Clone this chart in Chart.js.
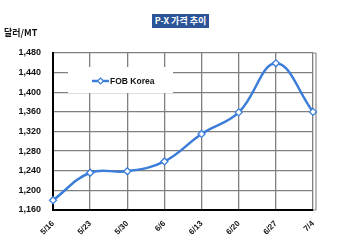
<!DOCTYPE html>
<html>
<head>
<meta charset="utf-8">
<script src="https://cdn.jsdelivr.net/npm/chart.js@4"></script>
<style>
  body { margin: 0; background: #fff; }
  #wrap { position: relative; width: 350px; height: 250px; }
  #title {
    position: absolute; left: 152px; top: 14px; width: 57px; height: 14px;
    background: #2b5597; color: #fff; font: bold 9px "Noto Sans CJK KR", sans-serif;
    line-height: 14px; text-align: center; white-space: nowrap;
  }
  #unit {
    position: absolute; left: 4px; top: 26px;
    font: bold 9px "Noto Sans CJK KR", sans-serif; color: #111;
  }
</style>
</head>
<body>
<div id="wrap">
  <canvas id="chart" width="350" height="250"></canvas>
  <div id="title">P-X 가격 추이</div>
  <div id="unit">달러/MT</div>
</div>
<script>
// données
const LABELS = ["5/16", "5/23", "5/30", "6/6", "6/13", "6/20", "6/27", "7/4"];
const FOB_KOREA = [1180, 1236, 1239, 1259, 1315, 1359, 1459, 1360];
const Y_MIN = 1160;
const Y_MAX = 1480;
const Y_STEP = 40;

const BLUE = '#3b7dd8';

// légende dessinée à la main (fond blanc sur la grille) + bord droit du cadre
const legendBox = {
  id: 'legendBox',
  beforeDatasetsDraw(chart) {
    const ctx = chart.ctx;
    const area = chart.chartArea;
    ctx.save();
    ctx.strokeStyle = '#8a8a8a';
    ctx.lineWidth = 1.2;
    ctx.beginPath();
    ctx.moveTo(area.right + 3, area.top);
    ctx.lineTo(area.right + 3, area.bottom);
    ctx.moveTo(area.right, area.top);
    ctx.lineTo(area.right + 3, area.top);
    ctx.moveTo(area.right, area.bottom);
    ctx.lineTo(area.right + 3, area.bottom);
    ctx.stroke();
    ctx.restore();
  },
  afterDraw(chart) {
    const ctx = chart.ctx;
    ctx.save();
    ctx.fillStyle = '#fff';
    ctx.fillRect(68, 67, 105, 26);
    ctx.strokeStyle = BLUE;
    ctx.lineWidth = 2.5;
    ctx.beginPath();
    ctx.moveTo(92, 81);
    ctx.lineTo(109, 81);
    ctx.stroke();
    // petit losange
    ctx.fillStyle = '#fff';
    ctx.lineWidth = 1.2;
    ctx.beginPath();
    ctx.moveTo(100.5, 78);
    ctx.lineTo(103.5, 81);
    ctx.lineTo(100.5, 84);
    ctx.lineTo(97.5, 81);
    ctx.closePath();
    ctx.fill();
    ctx.stroke();
    ctx.fillStyle = '#111';
    ctx.font = 'bold 8.5px "Liberation Sans", Arial, sans-serif';
    ctx.textBaseline = 'middle';
    ctx.fillText(chart.data.datasets[0].label, 110, 81.5);
    ctx.restore();
  }
};

const ctx = document.getElementById('chart').getContext('2d');
new Chart(ctx, {
  type: 'line',
  data: {
    labels: LABELS,
    datasets: [{
      label: 'FOB Korea',
      data: FOB_KOREA,
      borderColor: BLUE,
      borderWidth: 2.5,
      tension: 0.4,
      pointStyle: 'rectRot',
      pointRadius: 3.5,
      pointBackgroundColor: '#fff',
      pointBorderColor: BLUE,
      pointBorderWidth: 1.3,
      fill: false
    }]
  },
  options: {
    responsive: false,
    animation: false,
    layout: { padding: { top: 53, right: 37, bottom: 0, left: 0 } },
    plugins: {
      legend: { display: false },
      tooltip: { enabled: false }
    },
    scales: {
      x: {
        offset: false,
        grid: { color: '#7f7f7f', lineWidth: 1.3, drawTicks: false },
        border: { color: '#000', width: 2 },
        ticks: {
          color: '#111',
          font: { family: '"Liberation Sans", Arial', size: 8, weight: 'bold' },
          minRotation: 45,
          maxRotation: 45,
          padding: 9
        },
        afterFit(scale) { scale.height = 40; }
      },
      y: {
        min: Y_MIN,
        max: Y_MAX,
        grid: { color: '#7f7f7f', lineWidth: 1.3, drawTicks: false },
        border: { color: '#000', width: 2 },
        ticks: {
          stepSize: Y_STEP,
          color: '#111',
          padding: 12,
          font: { family: '"Liberation Sans", Arial', size: 9, weight: 'bold' },
          callback: v => v.toLocaleString('en-US')
        },
        afterFit(scale) { scale.width = 53; }
      }
    }
  },
  plugins: [legendBox]
});
</script>
</body>
</html>
